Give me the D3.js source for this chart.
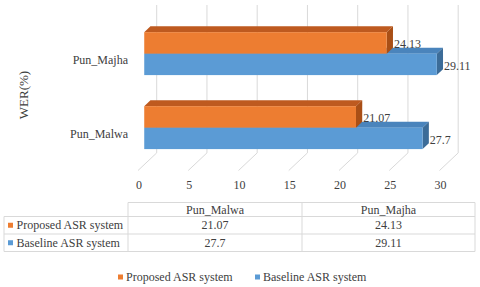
<!DOCTYPE html>
<html><head><meta charset="utf-8">
<script src="https://cdn.jsdelivr.net/npm/d3@7"></script>
<style>body{margin:0;background:#fff;}svg{display:block;} svg text{font-family:"Liberation Serif","Times New Roman","DejaVu Serif",serif;}</style>
</head><body>
<script>
const categories = ["Pun_Malwa", "Pun_Majha"];
const seriesNames = ["Proposed ASR system", "Baseline ASR system"];
const proposed = [21.07, 24.13];
const baseline = [27.7, 29.11];
const xTicks = [0, 5, 10, 15, 20, 25, 30];
const yTitle = "WER(%)";

const W = 480, H = 287;
const TXT = "#404040";
const colors = {
  "Proposed ASR system": {front: "#ED7D31", top: "#BE5A1F", side: "#A94F16"},
  "Baseline ASR system": {front: "#5B9BD5", top: "#4A84BC", side: "#3C6C98"}
};
const seriesVals = {"Proposed ASR system": proposed, "Baseline ASR system": baseline};

const svg = d3.select("body").append("svg").attr("width", W).attr("height", H);

const DX = 18.7, DY = -17.6;
const x = d3.scaleLinear().domain([0, 30]).range([138, 439.5]);
const y = d3.scaleBand().domain(categories.slice().reverse()).range([22.5, 170.5])
  .paddingInner(0.42).paddingOuter(0.21);
const ySub = d3.scaleBand().domain(seriesNames).range([0, y.bandwidth()]);
const proj = (v, yy, d) => [x(v) + d * DX, yy + d * DY];

// gridlines (back wall + floor)
const grid = svg.append("g");
xTicks.forEach(t => {
  grid.append("line").attr("x1", x(t) + DX).attr("x2", x(t) + DX)
    .attr("y1", 5).attr("y2", 170.5 + DY)
    .attr("stroke", "#D9D9D9").attr("stroke-width", 1);
  grid.append("line").attr("x1", x(t) + DX).attr("y1", 170.5 + DY)
    .attr("x2", x(t)).attr("y2", 170.5)
    .attr("stroke", "#D9D9D9").attr("stroke-width", 1);
});

// tick labels
svg.append("g").selectAll("text").data(xTicks).join("text")
  .attr("x", d => x(d) + 1).attr("y", 189)
  .attr("text-anchor", "middle").attr("font-size", 12).attr("fill", TXT)
  .text(d => d);

// bars
const d0 = 1 / 3, d1 = 2 / 3;
const bars = svg.append("g");
const order = ["Baseline ASR system", "Proposed ASR system"]; // draw lower first
categories.forEach((c, ci) => {
  order.forEach(s => {
    const v = seriesVals[s][ci];
    const y0 = y(c) + ySub(s), y1 = y0 + ySub.bandwidth();
    const col = colors[s];
    const poly = pts => pts.map(p => p.join(",")).join(" ");
    bars.append("polygon").attr("points", poly([proj(0, y0, d0), proj(v, y0, d0), proj(v, y0, d1), proj(0, y0, d1)]))
      .attr("fill", col.top);
    bars.append("polygon").attr("points", poly([proj(v, y0, d0), proj(v, y0, d1), proj(v, y1, d1), proj(v, y1, d0)]))
      .attr("fill", col.side);
    const a = proj(0, y0, d0), b = proj(v, y1, d0);
    bars.append("rect").attr("x", a[0]).attr("y", a[1]).attr("width", b[0] - a[0]).attr("height", b[1] - a[1])
      .attr("fill", col.front);
  });
});
// data labels
categories.forEach((c, ci) => {
  seriesNames.forEach(s => {
    const v = seriesVals[s][ci];
    const y0 = y(c) + ySub(s);
    const p = proj(v, y0 + ySub.bandwidth() / 2, d1);
    svg.append("text").attr("x", p[0] + 1).attr("y", proj(v, y0 + ySub.bandwidth() / 2, d0)[1] + 5.5)
      .attr("font-size", 12).attr("fill", TXT).text(v);
  });
});

// category labels
svg.append("g").selectAll("text").data(categories).join("text")
  .attr("x", 128).attr("y", d => y(d) + y.bandwidth() / 2 + 4)
  .attr("text-anchor", "end").attr("font-size", 12).attr("fill", TXT).text(d => d);

// y title
svg.append("text").attr("transform", "translate(28,95) rotate(-90)")
  .attr("text-anchor", "middle").attr("font-size", 13).attr("fill", TXT).text(yTitle);

// data table
const tb = svg.append("g");
const colX = [4, 128, 302, 475];
const rowY = [202.5, 216.5, 234, 251.5];
const lineC = "#D9D9D9";
const hl = (x1, x2, yy) => tb.append("line").attr("x1", x1).attr("x2", x2).attr("y1", yy).attr("y2", yy).attr("stroke", lineC);
const vl = (xx, y1, y2) => tb.append("line").attr("x1", xx).attr("x2", xx).attr("y1", y1).attr("y2", y2).attr("stroke", lineC);
hl(colX[1], colX[3], rowY[0]);
hl(colX[0], colX[3], rowY[1]);
hl(colX[0], colX[3], rowY[2]);
hl(colX[0], colX[3], rowY[3]);
vl(colX[0], rowY[1], rowY[3]);
vl(colX[1], rowY[0], rowY[3]);
vl(colX[2], rowY[0], rowY[3]);
vl(colX[3], rowY[0], rowY[3]);
categories.forEach((c, ci) => {
  const cx = (colX[ci + 1] + colX[ci + 2]) / 2;
  tb.append("text").attr("x", cx).attr("y", (rowY[0] + rowY[1]) / 2 + 4)
    .attr("text-anchor", "middle").attr("font-size", 12).attr("fill", TXT).text(c);
  seriesNames.forEach((s, si) => {
    tb.append("text").attr("x", cx).attr("y", (rowY[si + 1] + rowY[si + 2]) / 2 + 4)
      .attr("text-anchor", "middle").attr("font-size", 12).attr("fill", TXT).text(seriesVals[s][ci]);
  });
});
seriesNames.forEach((s, si) => {
  const cy = (rowY[si + 1] + rowY[si + 2]) / 2;
  tb.append("rect").attr("x", 8).attr("y", cy - 2.5).attr("width", 5).attr("height", 5).attr("fill", colors[s].front);
  tb.append("text").attr("x", 16.5).attr("y", cy + 4).attr("font-size", 12).attr("fill", TXT).text(s);
});

// legend
const lg = svg.append("g");
const legX = [118, 255];
seriesNames.forEach((s, si) => {
  lg.append("rect").attr("x", legX[si]).attr("y", 274.5).attr("width", 5).attr("height", 5).attr("fill", colors[s].front);
  lg.append("text").attr("x", legX[si] + 8).attr("y", 281).attr("font-size", 12).attr("fill", TXT).text(s);
});
</script>
</body></html>
